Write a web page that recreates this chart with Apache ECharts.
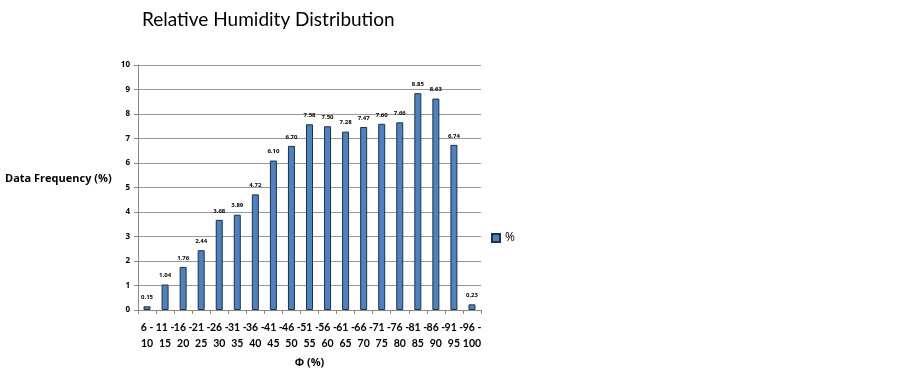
<!DOCTYPE html>
<html><head><meta charset="utf-8">
<script src="https://cdn.jsdelivr.net/npm/echarts@6/dist/echarts.min.js"></script>
<style>html,body{margin:0;padding:0;background:#fff}#c{width:903px;height:368px}</style>
</head><body><div id="c"></div>
<script>
const categories = ['6 -\n10','11 -\n15','16 -\n20','21 -\n25','26 -\n30','31 -\n35','36 -\n40','41 -\n45','46 -\n50','51 -\n55','56 -\n60','61 -\n65','66 -\n70','71 -\n75','76 -\n80','81 -\n85','86 -\n90','91 -\n95','96 -\n100'];
const values = [0.15,1.04,1.76,2.44,3.68,3.89,4.72,6.10,6.70,7.58,7.50,7.28,7.47,7.60,7.66,8.85,8.63,6.74,0.23];
const chart = echarts.init(document.getElementById('c'), null, {renderer:'canvas'});
const F = '"Open Sans", Lato, sans-serif';
chart.setOption({
  animation:false,
  title:{text:'Relative Humidity Distribution',left:137,top:5,textStyle:{fontFamily:'Lato',fontSize:19,fontWeight:'normal',color:'#000'}},
  grid:{left:138,top:65,width:343,height:245,containLabel:false,outerBoundsMode:'none'},
  legend:{left:486,top:227,itemWidth:8,itemHeight:8,itemGap:3,textStyle:{fontFamily:F,fontSize:12,color:'#000'},data:[{name:'%',icon:'rect'}]},
  graphic:[{type:'text',left:5,top:173,style:{text:'Data Frequency (%)',font:'bold 11px '+F,fill:'#000'}}],
  xAxis:{type:'category',data:categories,name:'Φ (%)',nameLocation:'middle',nameGap:46,
    nameTextStyle:{fontFamily:F,fontSize:11,fontWeight:'bold',color:'#000'},
    axisLine:{lineStyle:{color:'#888'}},axisTick:{show:true,alignWithLabel:false,length:4,lineStyle:{color:'#888'}},
    axisLabel:{interval:0,fontFamily:'Lato',fontSize:10.5,fontWeight:'bold',color:'#000',lineHeight:16,margin:10}},
  yAxis:{type:'value',min:0,max:10,interval:1,
    axisLine:{show:true,lineStyle:{color:'#888'}},axisTick:{show:true,length:4,lineStyle:{color:'#888'}},
    axisLabel:{fontFamily:F,fontSize:8,fontWeight:'bold',color:'#000',margin:8},
    splitLine:{lineStyle:{color:'#999',width:1}}},
  series:[{name:'%',type:'bar',data:values,barWidth:7,
    itemStyle:{color:'#4F81BD',borderColor:'#1F3047',borderWidth:1},
    label:{show:true,position:'top',distance:6,formatter:p=>p.value.toFixed(2),fontFamily:F,fontSize:6,fontWeight:'bold',color:'#000'}}]
});
</script></body></html>
